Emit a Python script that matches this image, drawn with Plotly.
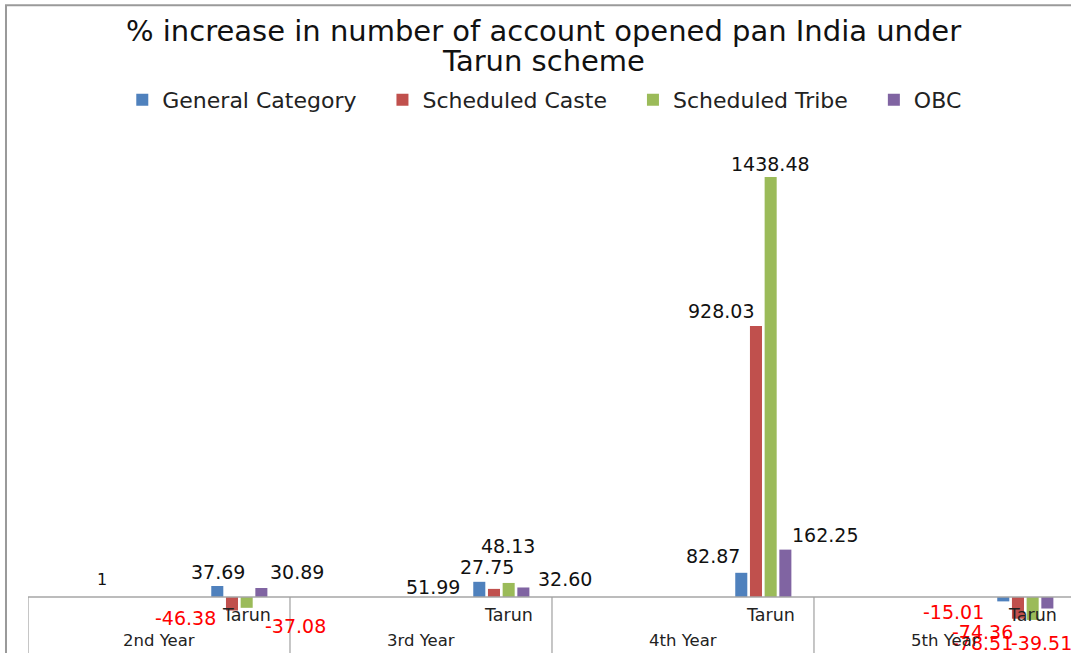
import plotly.graph_objects as go

# ---- data ----
years = ["2nd Year", "3rd Year", "4th Year", "5th Year"]
scheme = "Tarun"
series_names = ["General Category", "Scheduled Caste", "Scheduled Tribe", "OBC"]
general = [37.69, 51.99, 82.87, -15.01]
sched_caste = [-46.38, 27.75, 928.03, -74.36]
sched_tribe = [-37.08, 48.13, 1438.48, -78.51]
obc = [30.89, 32.60, 162.25, -39.51]
stray_value = 1
title_lines = ["% increase in number of account opened pan India under", "Tarun scheme"]

series_values = [general, sched_caste, sched_tribe, obc]
colors = ["#4F81BD", "#C0504D", "#9BBB59", "#8064A2"]

# each year holds three sub-category slots; the scheme sits in the last one
SLOTS = 3
slot_x = [SLOTS * i + 2 for i in range(len(years))]

PX_PER_SLOT = 1043 / 11.943
GROUP_W = 0.673                     # width of one bar cluster, in slot units
GROUPGAP = 0.18
trace_w = GROUP_W / len(series_names)
bar_w = trace_w * (1 - GROUPGAP)
SHIFT_PX = 7                        # cluster sits a little left of its label
SHIFT = SHIFT_PX / PX_PER_SLOT

# pixel offsets (dx, dy) of each value label from its unshifted bar end, per year
label_offsets = {
    0: [(-6, 14), (-53, -5), (-35, 17), (-57, -11)],
    1: [(-53, -7), (-14, 22), (-42, 15), (-42, -13)],
    2: [(42, -18), (-8, 37), (-7, 13), (-57, -23)],
    3: [(29, 16), (35, 8), (33, 15), (-13, -34)],
}

FONT = "DejaVu Sans, Verdana, sans-serif"
Y_RANGE = [-191.8, 1530.8]
X_RANGE = [-0.5, -0.5 + 1043 / PX_PER_SLOT]

fig = go.Figure()
for j, (name, vals, col) in enumerate(zip(series_names, series_values, colors)):
    pad = "" if j == len(series_names) - 1 else "\u00a0" * 3
    centre = (j - 1.5) * trace_w - SHIFT
    fig.add_trace(go.Bar(
        name=name + pad,
        x=slot_x,
        y=vals,
        width=bar_w,
        offset=centre - bar_w / 2,
        marker=dict(color=col, line=dict(width=0)),
    ))

annotations = []
for j, vals in enumerate(series_values):
    for i, v in enumerate(vals):
        dx, dy = label_offsets[j][i]
        annotations.append(dict(
            x=slot_x[i] + (j - 1.5) * trace_w - SHIFT, y=v,
            xref="x", yref="y",
            text=f"{v:.2f}", showarrow=False,
            xanchor="center", yanchor="middle",
            xshift=dx + SHIFT_PX, yshift=dy,
            font=dict(family=FONT, size=19,
                      color="#FF0000" if v < 0 else "#111111"),
        ))

# lone label sitting in the first slot of the first year
annotations.append(dict(
    x=0, y=0, xref="x", yref="y", text=str(stray_value), showarrow=False,
    xanchor="center", yanchor="middle", xshift=30, yshift=17,
    font=dict(family=FONT, size=16, color="#111111"),
))

# two-tier category axis labels
for i, yr in enumerate(years):
    annotations.append(dict(
        x=slot_x[i], y=0, xref="x", yref="y", text=scheme, showarrow=False,
        xanchor="center", yanchor="middle", yshift=-18,
        font=dict(family=FONT, size=17.5, color="#222222"),
    ))
    annotations.append(dict(
        x=SLOTS * i + 1, y=0, xref="x", yref="y", text=yr, showarrow=False,
        xanchor="center", yanchor="middle", yshift=-44,
        font=dict(family=FONT, size=16.5, color="#222222"),
    ))

# chart title, two centred lines
for k, line in enumerate(title_lines):
    annotations.append(dict(
        x=0.4938, y=1 + (150 - 31 - 30 * k) / 503, xref="paper", yref="paper",
        text=line, showarrow=False, xanchor="center", yanchor="middle",
        font=dict(family=FONT, size=29, color="#111111"),
    ))

shapes = [
    # category axis line at zero
    dict(type="line", xref="x", yref="y", x0=-0.5, x1=SLOTS * len(years) - 0.5,
         y0=0, y1=0, line=dict(color="#A6A6A6", width=1.5)),
]
for i in range(len(years) + 1):
    b = SLOTS * i - 0.5
    shapes.append(dict(type="line", xref="x", yref="y", x0=b, x1=b,
                       y0=0, y1=Y_RANGE[0], line=dict(color="#A0A0A0", width=1.2)))
# chart frame
shapes.append(dict(type="rect", xref="paper", yref="paper",
                   x0=-0.0211, x1=1.05, y0=-0.2, y1=1.288,
                   line=dict(color="#9A9A9A", width=2), fillcolor="rgba(0,0,0,0)"))

fig.update_layout(
    width=1071, height=653,
    margin=dict(l=28, r=0, t=150, b=0),
    paper_bgcolor="white", plot_bgcolor="white",
    barmode="overlay",
    legend=dict(
        orientation="h", x=0.495, xanchor="center", y=1 + 50 / 503, yanchor="middle",
        font=dict(family=FONT, size=22, color="#222222"),
        traceorder="normal",
    ),
    xaxis=dict(range=X_RANGE, visible=False, fixedrange=True),
    yaxis=dict(range=Y_RANGE, visible=False, fixedrange=True),
    annotations=annotations,
    shapes=shapes,
    showlegend=True,
)

fig.write_html("out.html", config={"displayModeBar": False})
